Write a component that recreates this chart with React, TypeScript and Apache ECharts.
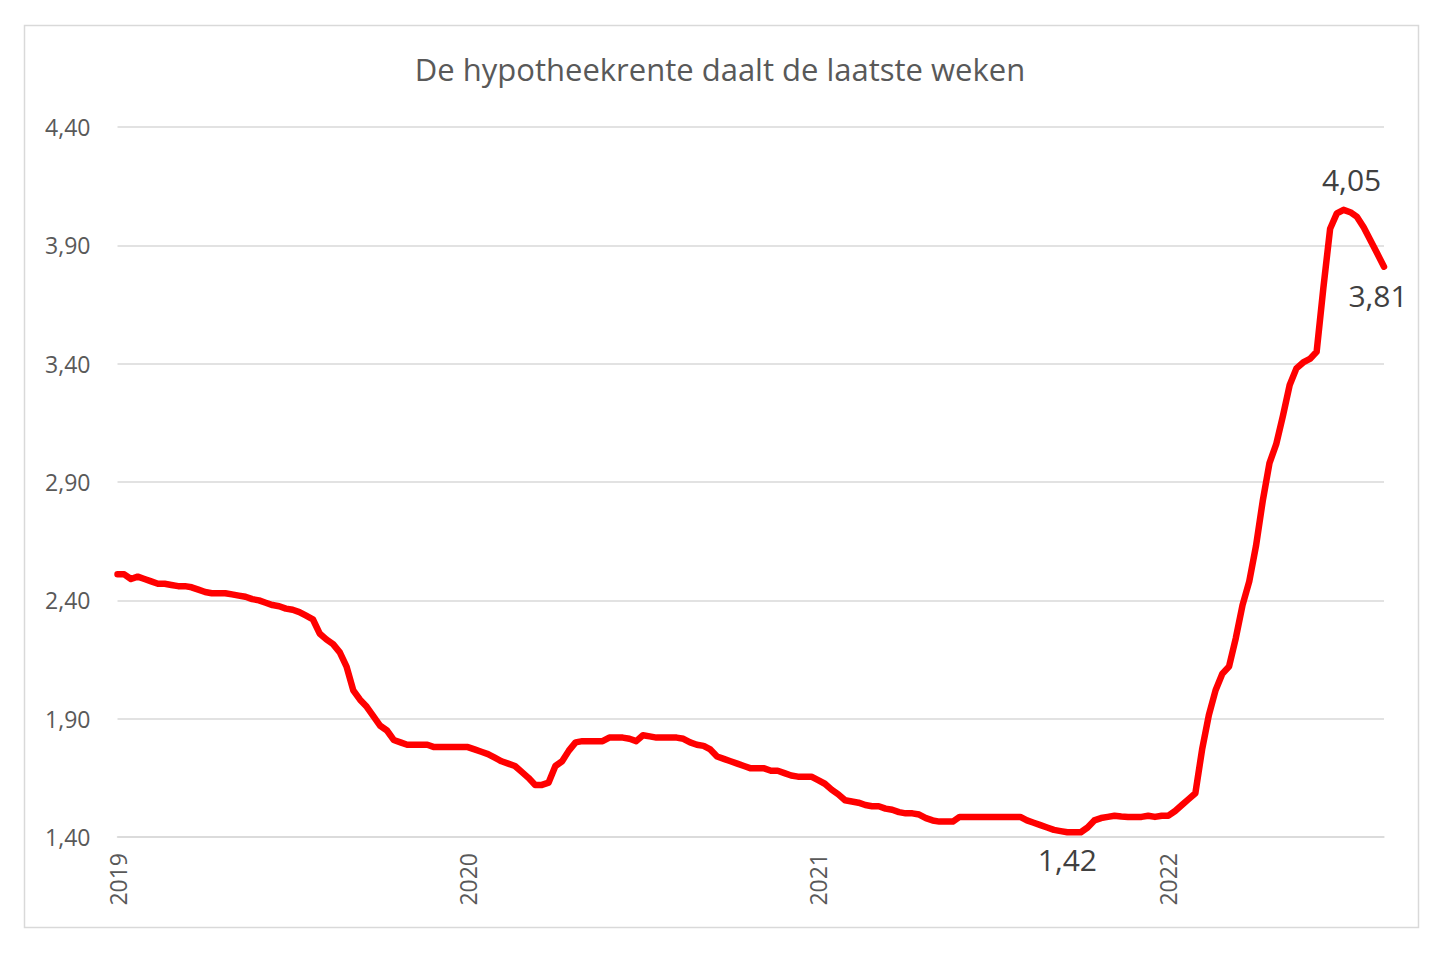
import React, { useEffect, useRef } from "react";
import * as echarts from "echarts";

const FONT = "'Open Sans', 'Noto Sans', sans-serif";

const chartTitle = "De hypotheekrente daalt de laatste weken";
const years = [2019, 2020, 2021, 2022];

// weekly mortgage rate (%)
const rates2019 = [
  2.51, 2.51, 2.49, 2.5, 2.49, 2.48, 2.47, 2.47, 2.465, 2.46,
  2.46, 2.455, 2.445, 2.435, 2.43, 2.43, 2.43, 2.425, 2.42, 2.415,
  2.405, 2.4, 2.39, 2.38, 2.375, 2.365, 2.36, 2.35, 2.335, 2.32,
  2.26, 2.235, 2.215, 2.18, 2.12, 2.02, 1.98, 1.95, 1.91, 1.87,
  1.85, 1.81, 1.8, 1.79, 1.79, 1.79, 1.79, 1.78, 1.78, 1.78, 1.78, 1.78,
];
const rates2020 = [
  1.78, 1.77, 1.76, 1.75, 1.735, 1.72, 1.71, 1.7, 1.675, 1.65,
  1.62, 1.62, 1.63, 1.7, 1.72, 1.765, 1.8, 1.805, 1.805, 1.805,
  1.805, 1.82, 1.82, 1.82, 1.815, 1.805, 1.83, 1.825, 1.82, 1.82,
  1.82, 1.82, 1.815, 1.8, 1.79, 1.785, 1.77, 1.74, 1.73, 1.72,
  1.71, 1.7, 1.69, 1.69, 1.69, 1.68, 1.68, 1.67, 1.66, 1.655, 1.655, 1.655,
];
const rates2021 = [
  1.64, 1.625, 1.6, 1.58, 1.555, 1.55, 1.545, 1.535, 1.53, 1.53,
  1.52, 1.515, 1.505, 1.5, 1.5, 1.495, 1.48, 1.47, 1.465, 1.465,
  1.465, 1.485, 1.485, 1.485, 1.485, 1.485, 1.485, 1.485, 1.485, 1.485,
  1.485, 1.47, 1.46, 1.45, 1.44, 1.43, 1.425, 1.42, 1.42, 1.42,
  1.44, 1.47, 1.48, 1.485, 1.49, 1.487, 1.485, 1.485, 1.485, 1.49, 1.485, 1.49,
];
const rates2022 = [
  1.49, 1.51, 1.535, 1.56, 1.585, 1.77, 1.915, 2.02, 2.09, 2.12,
  2.24, 2.38, 2.48, 2.63, 2.82, 2.98, 3.06, 3.18, 3.31, 3.38,
  3.405, 3.42, 3.45, 3.72, 3.97, 4.035, 4.05, 4.04, 4.02, 3.975,
  3.92, 3.865, 3.81,
];
const ratesByYear = [rates2019, rates2020, rates2021, rates2022];

const yMin = 1.4;
const yMax = 4.4;
const yStep = 0.5;

const fmt = (v: number) => v.toFixed(2).replace(".", ",");

export default function App() {
  const ref = useRef<HTMLDivElement>(null);

  useEffect(() => {
    if (!ref.current) return;
    const chart = echarts.init(ref.current, null, { renderer: "svg" });

    const categories: string[] = [];
    const values: number[] = [];
    const yearStart = new Set<number>();
    years.forEach((y, k) => {
      yearStart.add(categories.length);
      ratesByYear[k].forEach((v, i) => {
        categories.push(`${y}-${i + 1}`);
        values.push(v);
      });
    });
    const maxIdx = values.indexOf(Math.max(...values));
    const minIdx = values.indexOf(Math.min(...values));
    const lastIdx = values.length - 1;

    const baseLabel = {
      show: true,
      color: "#404040",
      fontSize: 30,
      fontFamily: FONT,
      formatter: (p: any) => fmt(Number(p.value)),
    };

    const data = values.map((v, i) => {
      if (i === maxIdx)
        return { value: v, label: { ...baseLabel, position: "top", distance: 15, offset: [8, 0] } };
      if (i === lastIdx)
        return { value: v, label: { ...baseLabel, position: "bottom", distance: 13, offset: [-6, 0] } };
      if (i === minIdx)
        return { value: v, label: { ...baseLabel, position: "bottom", distance: 12, offset: [0, 0] } };
      return v;
    });

    chart.setOption({
      animation: false,
      backgroundColor: "#ffffff",
      textStyle: { fontFamily: FONT },
      title: {
        text: chartTitle,
        left: "center",
        top: 48,
        textStyle: { fontFamily: FONT, fontSize: 31, fontWeight: "normal", color: "#595959" },
      },
      graphic: [
        {
          type: "rect",
          shape: { x: 24.5, y: 25.5, width: 1394, height: 902 },
          style: { fill: "none", stroke: "#d9d9d9", lineWidth: 1.5 },
          silent: true,
        },
      ],
      grid: { left: 117.5, right: 56, top: 127, bottom: 133, containLabel: false },
      xAxis: {
        type: "category",
        data: categories,
        boundaryGap: false,
        axisLine: { show: true, lineStyle: { color: "#d9d9d9", width: 1.5 } },
        axisTick: { show: false },
        splitLine: { show: false },
        axisLabel: {
          interval: (i: number) => yearStart.has(i),
          formatter: (v: string) => v.slice(0, 4),
          rotate: 90,
          margin: 16,
          color: "#595959",
          fontSize: 23,
          fontFamily: FONT,
        },
      },
      yAxis: {
        type: "value",
        min: yMin,
        max: yMax,
        interval: yStep,
        axisLine: { show: false },
        axisTick: { show: false },
        splitLine: { lineStyle: { color: "#d9d9d9", width: 1.5 } },
        axisLabel: {
          formatter: (v: number) => fmt(v),
          margin: 27,
          color: "#595959",
          fontSize: 23,
          fontFamily: FONT,
        },
      },
      series: [
        {
          type: "line",
          data,
          showSymbol: true,
          showAllSymbol: true,
          symbol: "circle",
          symbolSize: 1,
          itemStyle: { color: "#ff0000" },
          lineStyle: { color: "#ff0000", width: 6.5, join: "round", cap: "round" },
          label: { show: false },
          emphasis: { disabled: true },
          silent: true,
        },
      ],
    });

    return () => chart.dispose();
  }, []);

  return (
    <div
      ref={ref}
      style={{ position: "absolute", left: 0, top: 0, width: 1440, height: 970, background: "#ffffff" }}
    />
  );
}
